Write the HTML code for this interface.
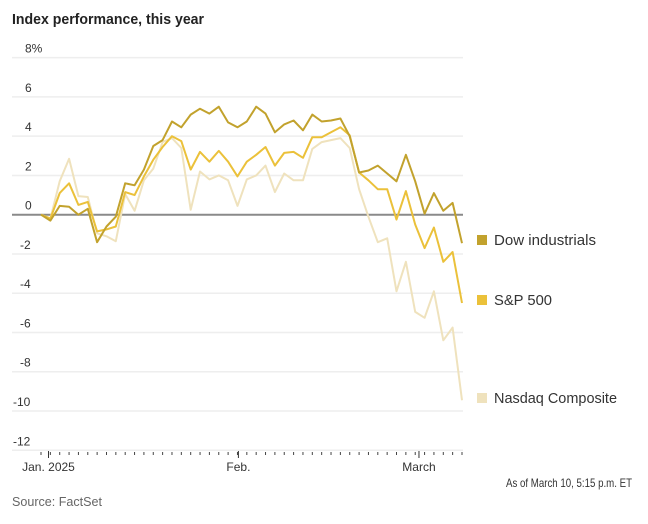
<!DOCTYPE html>
<html><head><meta charset="utf-8"><style>
body{margin:0;background:#fff;font-family:"Liberation Sans Narrow","Liberation Sans",sans-serif;}
svg text{font-family:"Liberation Sans Narrow","Liberation Sans",sans-serif;}
</style></head><body>
<svg id="c" width="648" height="519" xmlns="http://www.w3.org/2000/svg">
<text x="12" y="24" font-size="15" font-weight="bold" fill="#222" textLength="192" lengthAdjust="spacingAndGlyphs">Index performance, this year</text>
<g id="grid"></g><g id="lines"></g><g id="xaxis"></g>
<g>
<rect x="477" y="235" width="10" height="10" fill="#c2a22d"/>
<text x="494" y="245" font-size="15" fill="#333" textLength="102" lengthAdjust="spacingAndGlyphs">Dow industrials</text>
<rect x="477" y="295" width="10" height="10" fill="#ebc13a"/>
<text x="494" y="305" font-size="15" fill="#333" textLength="58" lengthAdjust="spacingAndGlyphs">S&amp;P 500</text>
<rect x="477" y="393" width="10" height="10" fill="#efe2bd"/>
<text x="494" y="403" font-size="15" fill="#333" textLength="123" lengthAdjust="spacingAndGlyphs">Nasdaq Composite</text>
</g>
<text x="506" y="487" font-size="12" fill="#333" textLength="126" lengthAdjust="spacingAndGlyphs">As of March 10, 5:15 p.m. ET</text>
<text x="12" y="506" font-size="12.5" fill="#666" textLength="90" lengthAdjust="spacingAndGlyphs">Source: FactSet</text>
</svg>
<script>
const yTicks=[8,6,4,2,0,-2,-4,-6,-8,-10,-12];
const yTickLabels=["8%","6","4","2","0","-2","-4","-6","-8","-10","-12"];
const xLabels=["Jan. 2025","Feb.","March"];
const xLabelIdx=[0.8,21.1,40.4];
const dow=[0,-0.3,0.45,0.4,0,0.3,-1.4,-0.6,-0.1,1.6,1.5,2.3,3.5,3.8,4.75,4.45,5.1,5.4,5.15,5.5,4.7,4.45,4.75,5.5,5.15,4.2,4.6,4.8,4.3,5.1,4.75,4.8,4.9,4.0,2.15,2.25,2.5,2.1,1.7,3.05,1.7,0.05,1.1,0.2,0.6,-1.45];
const sp500=[0,-0.2,1.1,1.6,0.5,0.65,-0.85,-0.75,-0.6,1.15,1.0,1.95,2.8,3.45,4.0,3.75,2.3,3.2,2.7,3.25,2.7,1.95,2.7,3.05,3.45,2.5,3.15,3.2,2.9,3.95,3.95,4.2,4.45,4.05,2.15,1.75,1.3,1.3,-0.25,1.2,-0.5,-1.7,-0.65,-2.4,-1.9,-4.5];
const nasdaq=[0,-0.2,1.7,2.85,0.95,0.9,-0.95,-1.1,-1.35,1.05,0.2,1.75,2.35,3.7,3.9,3.4,0.25,2.2,1.8,2.0,1.75,0.45,1.8,2.0,2.5,1.15,2.1,1.75,1.75,3.35,3.7,3.8,3.9,3.4,1.3,-0.1,-1.4,-1.2,-3.9,-2.4,-4.95,-5.25,-3.9,-6.4,-5.75,-9.45];
const NS="http://www.w3.org/2000/svg";
const x=i=>41+i*(421/45);
const y=v=>214.7-v*19.63;
const grid=document.getElementById('grid');
yTicks.forEach((t,k)=>{
  const l=document.createElementNS(NS,'line');
  
  
  l.setAttribute('x1',12);l.setAttribute('x2',463);
  l.setAttribute('y1',y(t));l.setAttribute('y2',y(t));
  l.setAttribute('stroke',t===0?'#8a8a8a':'#eeeeee');l.setAttribute('stroke-width',t===0?2:1.5);
  grid.appendChild(l);
  const tx=document.createElementNS(NS,'text');
  
  
  tx.setAttribute('x', t===8?25:(t<=-10?13:(t<0?20:25)));tx.setAttribute('y',y(t)-5);
  tx.setAttribute('font-size','12');tx.setAttribute('fill','#333');
  tx.textContent=yTickLabels[k];grid.appendChild(tx);
});
const lines=document.getElementById('lines');
[[nasdaq,'#efe2bd','nasdaq-line'],[sp500,'#ebc13a','sp500-line'],[dow,'#c2a22d','dow-line']].forEach(([d,c,n])=>{
  const p=document.createElementNS(NS,'polyline');
  
  
  p.setAttribute('points',d.map((v,i)=>x(i).toFixed(1)+','+y(v).toFixed(1)).join(' '));
  p.setAttribute('fill','none');p.setAttribute('stroke',c);p.setAttribute('stroke-width',2);p.setAttribute('stroke-linejoin','round');
  lines.appendChild(p);
});
const xa=document.getElementById('xaxis');
for(let i=0;i<=45;i++){
  const t=document.createElementNS(NS,'line');
  
  
  t.setAttribute('x1',x(i));t.setAttribute('x2',x(i));t.setAttribute('y1',452);t.setAttribute('y2',455);
  t.setAttribute('stroke','#444');t.setAttribute('stroke-width',1);xa.appendChild(t);
}
xLabels.forEach((lb,k)=>{
  const xx=x(xLabelIdx[k]);
  const t=document.createElementNS(NS,'line');
  
  
  t.setAttribute('x1',xx);t.setAttribute('x2',xx);t.setAttribute('y1',451);t.setAttribute('y2',458);
  t.setAttribute('stroke','#333');t.setAttribute('stroke-width',1);xa.appendChild(t);
  const tx=document.createElementNS(NS,'text');
  
  
  tx.setAttribute('x',xx);tx.setAttribute('y',471);tx.setAttribute('text-anchor','middle');
  tx.setAttribute('font-size','12');tx.setAttribute('fill','#333');tx.textContent=lb;xa.appendChild(tx);
});
</script>
</body></html>
